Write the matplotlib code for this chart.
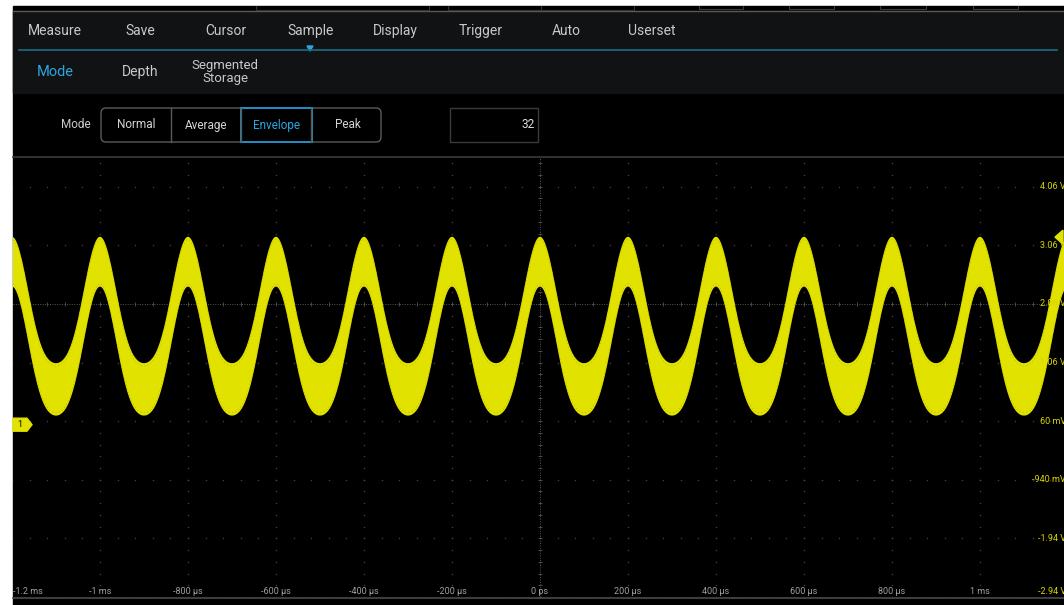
import numpy as np
import matplotlib.pyplot as plt
from matplotlib.patches import Rectangle, FancyBboxPatch, Polygon

plt.rcParams['font.family'] = ['Roboto', 'DejaVu Sans']

W, H = 1064, 605

# menu texts
menu_items = ['Measure', 'Save', 'Cursor', 'Sample', 'Display', 'Trigger', 'Auto', 'Userset']
sub_items = ['Mode', 'Depth', 'Segmented\nStorage']
mode_buttons = ['Normal', 'Average', 'Envelope', 'Peak']
active_mode = 'Envelope'
avg_count = '32'

# axes ticks (time in us, voltage in V)
time_ticks = [-1200, -1000, -800, -600, -400, -200, 0, 200, 400, 600, 800, 1000]
time_labels = ['-1.2 ms', '-1 ms', '-800 µs', '-600 µs', '-400 µs', '-200 µs', '0 ps',
               '200 µs', '400 µs', '600 µs', '800 µs', '1 ms']
volt_ticks = [4.06, 3.06, 2.06, 1.06, 0.06, -0.94, -1.94, -2.94]
volt_labels = ['4.06 V', '3.06 V', '2.06 V', '1.06 V', '60 mV', '-940 mV', '-1.94 V', '-2.94 V']

# signal: 5 kHz wave (slightly sharp crests) shown as an envelope band
period_us = 200
upper_offset, upper_amp = 2.128, 1.078
lower_offset, lower_amp = 1.255, 1.10
harmonic2 = 0.15
trigger_level = 3.2
ground_level = 0.0

# screen window
t_min, t_max = -1197.7, 1190.9
v_min, v_max = -2.94, 4.55
plot_top, plot_bot, plot_left = 158, 597, 13


def py(v):
    return plot_top + (v_max - v) / (v_max - v_min) * (plot_bot - plot_top)


fig = plt.figure(figsize=(W / 100, H / 100), dpi=100)
fig.patch.set_facecolor('white')

# ---- user interface layer (pixel coords) ----
ui = fig.add_axes([0, 0, 1, 1])
ui.set_xlim(0, W)
ui.set_ylim(H, 0)
ui.axis('off')

ui.add_patch(Rectangle((plot_left, 6), W, H, color='black'))
ui.add_patch(Rectangle((plot_left, 11), W, 82, color='#111214'))
ui.plot([plot_left, W], [10.5, 10.5], color='#5a5a5a', lw=1)
for x0, x1 in [(256, 429), (448, 541), (541, 634)]:
    ui.plot([x0, x0, x1, x1], [6, 9.5, 9.5, 6], color='#333333', lw=0.8)
for x0, x1 in [(699, 743), (789, 834), (880, 926), (973, 1018)]:
    ui.plot([x0, x0, x1, x1], [6, 8.5, 8.5, 6], color='#3a3a3a', lw=0.8)

for i, name in enumerate(menu_items):
    ui.text(55 + i * 85.2, 31, name, color='#c9c9c9', fontsize=10, ha='center', va='center')
ui.plot([19, 1057], [50, 50], color='#1d6c86', lw=1.2)
ui.add_patch(Polygon([[307, 46], [313, 46], [310, 51]], color='#2aa6e0'))

for i, name in enumerate(sub_items):
    col = '#2aa6e0' if i == 0 else '#c9c9c9'
    fs = 10.5 if i == 0 else (10 if i == 1 else 9.5)
    ui.text(55 + i * 85, 72, name, color=col, fontsize=fs, ha='center', va='center',
            linespacing=1.05)

ui.text(91, 125, 'Mode', color='#c9c9c9', fontsize=8.5, ha='right', va='center')
ui.add_patch(FancyBboxPatch((101, 108), 280, 34, boxstyle='round,pad=0,rounding_size=5',
                            fc='black', ec='#5a5a5a', lw=1))
for xd in [171, 241, 311]:
    ui.plot([xd, xd], [108, 142], color='#5a5a5a', lw=1)
for i, name in enumerate(mode_buttons):
    xc = 136 + i * 70.5
    if name == active_mode:
        ui.add_patch(Rectangle((241, 108), 70.5, 34, fc='none', ec='#1f94cf', lw=1.3))
        col = '#2aa6e0'
    else:
        col = '#d4d4d4'
    ui.text(xc, 125, name, color=col, fontsize=8.5, ha='center', va='center')

ui.add_patch(Rectangle((450, 108), 88, 34, fc='black', ec='#3a3a3a', lw=1))
ui.text(535, 125, avg_count, color='#dddddd', fontsize=8.5, ha='right', va='center')
ui.plot([plot_left, W], [157, 157], color='#3a3a3a', lw=1.2)
ui.plot([plot_left, W], [598, 598], color='#4a4a4a', lw=1.2)

# ---- waveform area ----
ax = fig.add_axes([plot_left / W, (H - plot_bot) / H, (W - plot_left) / W,
                   (plot_bot - plot_top) / H])
ax.set_facecolor('black')
ax.set_xlim(t_min, t_max)
ax.set_ylim(v_min, v_max)
ax.set_xticks([])
ax.set_yticks([])
for s in ax.spines.values():
    s.set_visible(False)

# dotted graticule
grid_c = '#3f3f3f'
minor_t = np.arange(-1200, 1201, 40)
minor_v = np.arange(v_min, v_max + 0.01, 0.2)
for v in volt_ticks:
    if v == 2.06:
        continue
    ax.scatter(minor_t, np.full(len(minor_t), v), s=1.2, color=grid_c, lw=0, zorder=1)
for tk in time_ticks:
    if tk == 0:
        continue
    ax.scatter(np.full(len(minor_v), tk), minor_v, s=1.2, color=grid_c, lw=0, zorder=1)
ax.axvline(0, color='#565656', lw=0.7, ls=(0, (1, 1.5)), zorder=1)
ax.axhline(2.06, color='#565656', lw=0.7, ls=(0, (1, 1.5)), zorder=1)
ax.scatter(minor_t, np.full(len(minor_t), 2.06), s=5, marker='|', color='#565656', lw=0.6, zorder=1)
ax.scatter(np.zeros(len(minor_v)), minor_v, s=5, marker='_', color='#565656', lw=0.6, zorder=1)

t = np.linspace(-1300, 1300, 6000)
phase = 2 * np.pi * t / period_us
shape = np.cos(phase) + harmonic2 * np.cos(2 * phase) - harmonic2
upper = upper_offset + upper_amp * shape
lower = lower_offset + lower_amp * shape
ax.fill_between(t, lower, upper, color='#e2e200', lw=0, zorder=3)
ax.plot(t, upper - 0.05, color='#bcbc00', lw=0.5, ls=(0, (2, 3)), zorder=4)
ax.plot(t, lower + 0.05, color='#bcbc00', lw=0.5, ls=(0, (2, 3)), zorder=4)

# ---- labels and markers on top ----
top = fig.add_axes([0, 0, 1, 1], zorder=5)
top.set_xlim(0, W)
top.set_ylim(H, 0)
top.axis('off')

lab_y = 591
for tk, lab in zip(time_ticks, time_labels):
    xp = plot_left + (tk - t_min) / (t_max - t_min) * (W - plot_left)
    if tk == -1200:
        top.text(plot_left, lab_y, lab, color='#a0a0a0', fontsize=6.5, ha='left', va='center')
    else:
        top.text(xp, lab_y, lab, color='#a0a0a0', fontsize=6.5, ha='center', va='center')

for v, lab in zip(volt_ticks, volt_labels):
    yp = min(py(v), lab_y)
    top.text(1066, yp, lab, color='#d6d600', fontsize=6.5, ha='right', va='center')

yg = py(ground_level)
top.add_patch(Polygon([[13, yg - 6.5], [27, yg - 6.5], [32, yg], [27, yg + 6.5], [13, yg + 6.5]],
                      color='#e2e200'))
top.text(20, yg, '1', color='black', fontsize=6.5, ha='center', va='center')

ytr = py(trigger_level)
top.add_patch(Polygon([[1055, ytr], [1063, ytr - 7], [1063, ytr + 7]], color='#e2e200'))

fig.savefig('out.png', dpi=100, facecolor=fig.get_facecolor())
